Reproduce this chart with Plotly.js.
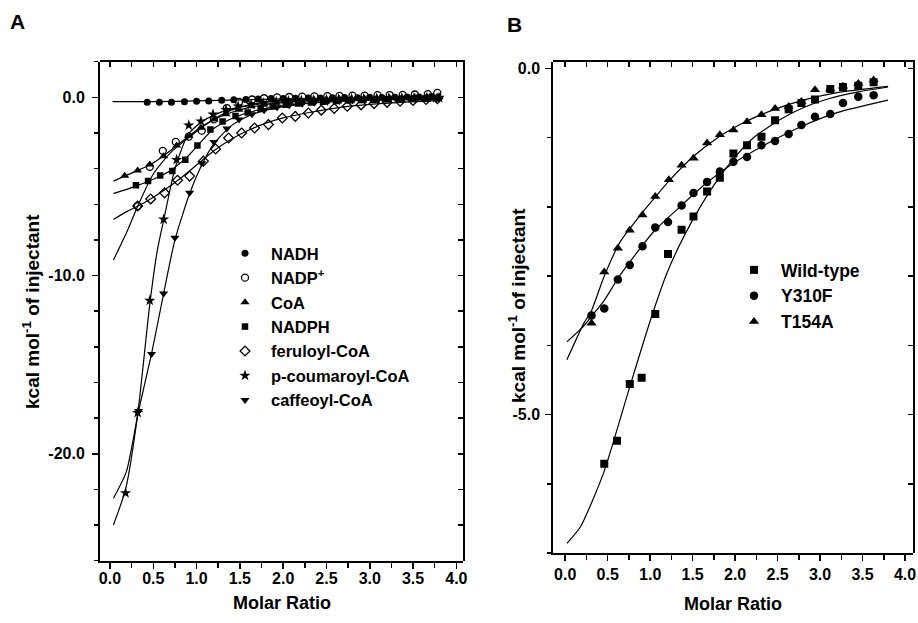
<!DOCTYPE html>
<html><head><meta charset="utf-8">
<script src="https://cdn.plot.ly/plotly-3.0.1.min.js"></script>
<style>html,body{margin:0;padding:0;background:#fff}#chart{width:918px;height:623px}</style>
</head><body><div id="chart"></div>
<script>
// ---------- Panel A data ----------
const namesA = ['NADH', 'NADP<sup>+</sup>', 'CoA', 'NADPH', 'feruloyl-CoA', 'p-coumaroyl-CoA', 'caffeoyl-CoA'];

const nadhX = [0.43,0.57,0.71,0.86,1.00,1.14,1.29,1.43,1.57,1.71,1.86,2.00,2.14,2.29,2.43,2.57,2.71,2.86,3.00,3.14,3.29,3.43,3.57,3.71];
const nadhY = [-0.28,-0.28,-0.27,-0.25,-0.22,-0.2,-0.17,-0.14,-0.12,-0.1,-0.07,-0.06,-0.05,-0.04,-0.03,-0.02,-0.01,-0.02,0.0,-0.01,0.01,0.02,0.02,0.05];
const nadhFitX = [0.03,0.5,1.0,1.5,2.0,2.5,3.0,3.5,3.78];
const nadhFitY = [-0.24,-0.24,-0.2,-0.14,-0.09,-0.05,-0.03,-0.01,0.0];

const nadpX = [0.32,0.46,0.61,0.76,0.91,1.06,1.20,1.35,1.49,1.64,1.78,1.93,2.07,2.22,2.36,2.51,2.65,2.80,2.94,3.09,3.23,3.38,3.52,3.67,3.78];
const nadpY = [-6.1,-3.9,-3.0,-2.5,-2.2,-1.87,-1.24,-0.6,-0.25,-0.12,-0.05,0.0,0.02,0.04,0.05,0.07,0.08,0.1,0.1,0.12,0.13,0.14,0.16,0.18,0.25];
const nadpFitX = [0.04,0.2,0.33,0.5,0.7,0.9,1.1,1.3,1.5,1.8,2.2,2.8,3.78];
const nadpFitY = [-9.13,-7.5,-6.0,-4.3,-3.1,-2.3,-1.55,-0.95,-0.55,-0.27,-0.12,-0.04,0.0];

const coaX = [0.17,0.32,0.46,0.62,0.77,0.91,1.05,1.20,1.34,1.49,1.63,1.78,1.92,2.07,2.21,2.36,2.50,2.65,2.79,2.94,3.08,3.23,3.37,3.52,3.66,3.80];
const coaY = [-4.4,-4.1,-3.77,-3.3,-2.7,-2.15,-1.7,-1.25,-0.95,-0.7,-0.5,-0.4,-0.3,-0.24,-0.2,-0.15,-0.12,-0.1,-0.08,-0.06,-0.05,-0.04,-0.02,0.0,0.0,0.02];
const coaFitX = [0.04,0.2,0.46,0.6,0.8,1.0,1.2,1.4,1.6,1.8,2.1,2.5,3.0,3.78];
const coaFitY = [-4.7,-4.35,-3.8,-3.35,-2.6,-1.85,-1.25,-0.85,-0.58,-0.4,-0.25,-0.15,-0.09,-0.05];

const nadphX = [0.30,0.44,0.58,0.72,0.87,1.01,1.16,1.30,1.45,1.59,1.74,1.88,2.03,2.17,2.32,2.46,2.61,2.75,2.90,3.04,3.19,3.33,3.48,3.62,3.77];
const nadphY = [-4.93,-4.7,-4.39,-4.14,-3.5,-2.7,-1.8,-1.35,-1.05,-0.85,-0.65,-0.52,-0.42,-0.35,-0.29,-0.25,-0.21,-0.18,-0.15,-0.13,-0.11,-0.1,-0.08,-0.07,-0.06];
const nadphFitX = [0.04,0.3,0.5,0.7,0.9,1.05,1.2,1.4,1.6,1.8,2.0,2.4,2.8,3.2,3.78];
const nadphFitY = [-5.4,-4.98,-4.6,-4.1,-3.3,-2.5,-1.75,-1.2,-0.85,-0.62,-0.47,-0.28,-0.18,-0.12,-0.07];

const ferX = [0.32,0.47,0.63,0.78,0.92,1.08,1.22,1.37,1.52,1.67,1.83,1.99,2.14,2.29,2.44,2.59,2.74,2.90,3.05,3.20,3.35,3.50,3.65,3.78];
const ferY = [-6.1,-5.7,-5.36,-4.65,-4.42,-3.58,-2.9,-2.28,-2.0,-1.72,-1.53,-1.16,-1.07,-0.88,-0.72,-0.62,-0.5,-0.42,-0.35,-0.28,-0.22,-0.18,-0.12,-0.08];
const ferFitX = [0.04,0.2,0.4,0.6,0.8,1.0,1.2,1.4,1.6,1.8,2.0,2.3,2.6,3.0,3.4,3.78];
const ferFitY = [-6.85,-6.4,-5.9,-5.3,-4.6,-3.8,-3.0,-2.35,-1.85,-1.45,-1.15,-0.85,-0.6,-0.4,-0.27,-0.18];

const pcoX = [0.18,0.32,0.46,0.62,0.77,0.91,1.05,1.19,1.34,1.48,1.63,1.77,1.92,2.06,2.21,2.35,2.50,2.64,2.79,2.93,3.08,3.22,3.37,3.51,3.66,3.80];
const pcoY = [-22.2,-17.7,-11.4,-6.85,-3.5,-1.57,-1.34,-0.95,-0.7,-0.5,-0.4,-0.32,-0.25,-0.2,-0.17,-0.14,-0.12,-0.1,-0.08,-0.07,-0.06,-0.05,-0.04,-0.03,-0.02,-0.02];
const pcoFitX = [0.04,0.18,0.32,0.46,0.55,0.62,0.75,0.9,1.05,1.2,1.4,1.7,2.1,2.6,3.2,3.78];
const pcoFitY = [-24.0,-22.0,-17.8,-11.6,-8.5,-6.9,-4.0,-2.1,-1.4,-1.0,-0.65,-0.4,-0.22,-0.12,-0.06,-0.03];

const cafX = [0.33,0.48,0.62,0.75,0.92,1.06,1.20,1.35,1.49,1.64,1.78,1.93,2.07,2.22,2.36,2.51,2.65,2.80,2.94,3.09,3.23,3.38,3.52,3.67,3.80];
const cafY = [-17.6,-14.4,-11.0,-7.88,-5.36,-3.7,-2.5,-1.75,-1.25,-0.95,-0.72,-0.55,-0.45,-0.36,-0.3,-0.25,-0.21,-0.18,-0.15,-0.13,-0.11,-0.1,-0.09,-0.08,-0.07];
const cafFitX = [0.04,0.19,0.33,0.48,0.62,0.75,0.92,1.05,1.2,1.4,1.6,1.8,2.1,2.5,3.0,3.78];
const cafFitY = [-22.5,-21.0,-17.6,-14.4,-11.0,-8.0,-5.4,-3.9,-2.6,-1.6,-1.05,-0.72,-0.45,-0.26,-0.15,-0.08];

// ---------- Panel B data ----------
const namesB = ['Wild-type', 'Y310F', 'T154A'];

const wtX = [0.46,0.61,0.76,0.90,1.06,1.21,1.37,1.51,1.67,1.82,1.98,2.14,2.31,2.47,2.63,2.78,2.94,3.12,3.27,3.45,3.63];
const wtY = [-5.71,-5.38,-4.56,-4.47,-3.55,-2.68,-2.33,-2.14,-1.78,-1.58,-1.23,-1.11,-0.99,-0.75,-0.59,-0.5,-0.45,-0.30,-0.27,-0.25,-0.2];
const wtFitX = [0.02,0.18,0.45,0.76,1.0,1.2,1.4,1.6,1.8,2.0,2.2,2.5,2.8,3.1,3.45,3.8];
const wtFitY = [-6.86,-6.62,-5.85,-4.6,-3.65,-2.95,-2.42,-1.98,-1.6,-1.28,-1.02,-0.76,-0.57,-0.44,-0.34,-0.27];

const y310X = [0.31,0.46,0.62,0.76,0.91,1.06,1.21,1.37,1.51,1.67,1.82,1.98,2.14,2.31,2.47,2.63,2.78,2.94,3.12,3.27,3.45,3.63];
const y310Y = [-3.57,-3.47,-3.05,-2.84,-2.57,-2.30,-2.22,-1.98,-1.80,-1.64,-1.49,-1.35,-1.28,-1.11,-1.05,-0.95,-0.82,-0.70,-0.66,-0.50,-0.41,-0.39];
const y310FitX = [0.02,0.22,0.31,0.46,0.65,1.04,1.35,1.67,1.98,2.45,2.78,3.2,3.8];
const y310FitY = [-3.95,-3.72,-3.58,-3.35,-2.98,-2.36,-2.0,-1.65,-1.37,-1.04,-0.84,-0.64,-0.46];

const t154X = [0.31,0.46,0.62,0.76,0.91,1.06,1.22,1.37,1.51,1.67,1.82,1.98,2.14,2.31,2.47,2.63,2.78,2.94,3.12,3.27,3.45,3.63];
const t154Y = [-3.68,-2.94,-2.60,-2.34,-2.12,-1.85,-1.61,-1.40,-1.30,-1.08,-0.96,-0.89,-0.77,-0.67,-0.58,-0.55,-0.48,-0.31,-0.30,-0.26,-0.22,-0.17];
const t154FitX = [0.02,0.22,0.31,0.46,0.65,0.91,1.06,1.22,1.51,1.82,2.14,2.45,2.8,3.2,3.8];
const t154FitY = [-4.21,-3.68,-3.5,-3.0,-2.5,-2.08,-1.86,-1.63,-1.27,-0.98,-0.76,-0.6,-0.46,-0.35,-0.26];

// tick labels
const xTickFormat = '.1f';
const yTickValsA = [0, -10, -20];
const yTickTextA = ['0.0', '-10.0', '-20.0'];
const yTickValsB = [0, -5];
const yTickTextB = ['0.0', '-5.0'];

// ---------- build ----------
const FONT = 'Liberation Sans, Arial, sans-serif';
const BLACK = '#000';
const W = 918, H = 623;

function pts(x, y, name, symbol, size, xa, ya, leg) {
  const open = symbol.indexOf('open') >= 0;
  return {x, y, name, type: 'scatter', mode: 'markers', xaxis: xa, yaxis: ya, legend: leg,
    marker: {symbol, size, color: BLACK, line: {color: BLACK, width: open ? 1.3 : 0}},
    hoverinfo: 'skip'};
}
function fit(x, y, xa, ya) {
  return {x, y, type: 'scatter', mode: 'lines', xaxis: xa, yaxis: ya, showlegend: false,
    line: {color: BLACK, width: 1.2, shape: 'spline', smoothing: 0.6}, hoverinfo: 'skip'};
}
function frameOnly(xa, ya) {
  return {x: [], y: [], type: 'scatter', mode: 'markers', xaxis: xa, yaxis: ya, showlegend: false, hoverinfo: 'skip'};
}

const traces = [
  frameOnly('x3', 'y3'), frameOnly('x4', 'y4'),
  fit(nadhFitX, nadhFitY, 'x', 'y'),
  fit(nadpFitX, nadpFitY, 'x', 'y'),
  fit(coaFitX, coaFitY, 'x', 'y'),
  fit(nadphFitX, nadphFitY, 'x', 'y'),
  fit(ferFitX, ferFitY, 'x', 'y'),
  fit(pcoFitX, pcoFitY, 'x', 'y'),
  fit(cafFitX, cafFitY, 'x', 'y'),
  pts(nadhX, nadhY, namesA[0], 'circle', 7, 'x', 'y', 'legend'),
  pts(nadpX, nadpY, namesA[1], 'circle-open', 7, 'x', 'y', 'legend'),
  pts(coaX, coaY, namesA[2], 'triangle-up', 8, 'x', 'y', 'legend'),
  pts(nadphX, nadphY, namesA[3], 'square', 6.5, 'x', 'y', 'legend'),
  pts(ferX, ferY, namesA[4], 'diamond-open', 7.5, 'x', 'y', 'legend'),
  pts(pcoX, pcoY, namesA[5], 'star', 8.5, 'x', 'y', 'legend'),
  pts(cafX, cafY, namesA[6], 'triangle-down', 8, 'x', 'y', 'legend'),
  fit(wtFitX, wtFitY, 'x2', 'y2'),
  fit(y310FitX, y310FitY, 'x2', 'y2'),
  fit(t154FitX, t154FitY, 'x2', 'y2'),
  pts(wtX, wtY, namesB[0], 'square', 8, 'x2', 'y2', 'legend2'),
  pts(y310X, y310Y, namesB[1], 'circle', 8.5, 'x2', 'y2', 'legend2'),
  pts(t154X, t154Y, namesB[2], 'triangle-up', 9, 'x2', 'y2', 'legend2')
];

const tickFont = {family: FONT, size: 16, color: BLACK, weight: 'bold'};
const baseAx = {showline: true, linewidth: 2, linecolor: BLACK, showgrid: false, zeroline: false,
  tickcolor: BLACK, tickwidth: 1.5, tickfont: tickFont, fixedrange: true};

const domAx = [100 / W, 463.3 / W], domAy = [(H - 560.7) / H, (H - 61.7) / H];
const domBx = [553.3 / W, 912.7 / W], domBy = [(H - 553) / H, (H - 62.3) / H];
const rAx = [-0.115, 4.08], rAy = [-26, 2];
const rBx = [-0.14, 4.09], rBy = [-7.0, 0.087];
const bold = (arr) => arr.map(t => '<b>' + t + '</b>');

function botX(dom, range, anchor, standoff) {
  return Object.assign({}, baseAx, {domain: dom, range, anchor, tickmode: 'linear', tick0: 0, dtick: 0.5,
    tickformat: xTickFormat, tickprefix: '<b>', ticksuffix: '</b>', ticks: 'outside', ticklen: 6, ticklabelstandoff: standoff,
    minor: {tickmode: 'linear', tick0: 0, dtick: 0.25, ticks: 'outside', ticklen: 5, tickwidth: 1.5, tickcolor: BLACK}});
}
function topX(dom, range, anchor) {
  return Object.assign({}, baseAx, {domain: dom, side: 'top', range, anchor, tickmode: 'linear', tick0: 0, dtick: 0.25,
    ticks: 'inside', ticklen: 5, showticklabels: false});
}
function leftY(dom, range, anchor, vals, text, minorD, standoff) {
  return Object.assign({}, baseAx, {domain: dom, range, anchor, tickmode: 'array', tickvals: vals, ticktext: bold(text),
    ticks: 'outside', ticklen: 6, ticklabelstandoff: standoff,
    minor: {tickmode: 'linear', tick0: 0, dtick: minorD, ticks: 'outside', ticklen: 4, tickwidth: 1.5, tickcolor: BLACK}});
}
function rightY(dom, range, anchor, d) {
  return Object.assign({}, baseAx, {domain: dom, side: 'right', range, anchor, tickmode: 'linear', tick0: 0, dtick: d,
    ticks: 'inside', ticklen: 5, showticklabels: false});
}

function ann(text, px, py, size, angle) {
  return {text: '<b>' + text + '</b>', x: px / W, y: 1 - py / H, xref: 'paper', yref: 'paper', xanchor: 'center', yanchor: 'middle',
    showarrow: false, textangle: angle || 0, font: {family: FONT, size, color: BLACK}};
}
const yTitle = 'kcal mol<sup>-1</sup> of injectant';

const layout = {
  width: W, height: H, margin: {l: 0, r: 0, t: 0, b: 0}, paper_bgcolor: '#fff', plot_bgcolor: 'rgba(0,0,0,0)',
  font: {family: FONT, color: BLACK},
  xaxis: botX(domAx, rAx, 'y', -4),
  yaxis: leftY(domAy, rAy, 'x', yTickValsA, yTickTextA, 2, 4),
  xaxis3: topX(domAx, rAx, 'y3'),
  yaxis3: rightY(domAy, rAy, 'x3', 2),
  xaxis2: botX(domBx, rBx, 'y2', 0),
  yaxis2: leftY(domBy, rBy, 'x2', yTickValsB, yTickTextB, 1, 2),
  xaxis4: topX(domBx, rBx, 'y4'),
  yaxis4: rightY(domBy, rBy, 'x4', 1),
  legend: {x: 219 / W, y: 1 - 236 / H, xanchor: 'left', yanchor: 'top', itemwidth: 42,
    font: {family: FONT, size: 16.5, color: BLACK, weight: 'bold'}, bgcolor: 'rgba(0,0,0,0)', borderwidth: 0},
  legend2: {x: 727 / W, y: 1 - 252 / H, xanchor: 'left', yanchor: 'top', itemwidth: 44,
    font: {family: FONT, size: 17.5, color: BLACK, weight: 'bold'}, bgcolor: 'rgba(0,0,0,0)', borderwidth: 0},
  annotations: [
    ann('A', 17, 22, 21), ann('B', 514, 24, 21),
    ann('Molar Ratio', 281.6, 603, 18), ann('Molar Ratio', 733, 604, 18),
    ann(yTitle, 31, 312, 19, -90), ann(yTitle, 517, 306, 19, -90)
  ],
  showlegend: true
};

Plotly.newPlot('chart', traces, layout, {staticPlot: true, displayModeBar: false});
</script></body></html>
